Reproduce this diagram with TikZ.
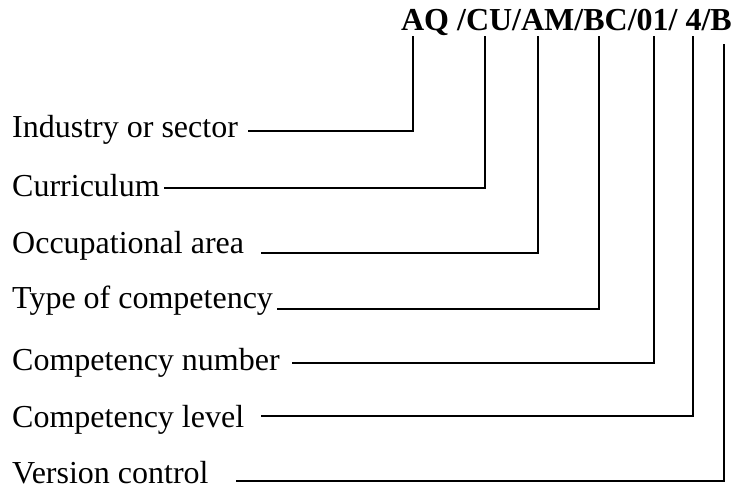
\documentclass[tikz,border=0pt]{standalone}
\usepackage{fontspec}
\setmainfont{Liberation Serif}
\begin{document}
\begin{tikzpicture}[x=1pt,y=-1pt,
  lbl/.style={anchor=base west,inner sep=0pt,font=\fontsize{32}{38}\selectfont},
  code/.style={anchor=base east,inner sep=0pt,font=\fontsize{32}{38}\selectfont\bfseries},
  conn/.style={line width=1.5pt,line cap=rect}]
\useasboundingbox (0,0) rectangle (737,496);
\node[code] (code) at (732,30) {AQ /CU/AM/BC/01/ 4/B};
\node[lbl] (l1) at (12,137) {Industry or sector};
\node[lbl] (l2) at (12,196) {Curriculum};
\node[lbl] (l3) at (12,253) {Occupational area};
\node[lbl] (l4) at (12,308) {Type of competency};
\node[lbl] (l5) at (12,370) {Competency number};
\node[lbl] (l6) at (12,427) {Competency level};
\node[lbl] (l7) at (12,483) {Version control};
\coordinate (t1) at (413,37);
\coordinate (t2) at (485,37);
\coordinate (t3) at (538,37);
\coordinate (t4) at (599,37);
\coordinate (t5) at (654,37);
\coordinate (t6) at (693,37);
\coordinate (t7) at (724,45);
\coordinate (s1) at (249,131);
\coordinate (s2) at (165,188);
\coordinate (s3) at (262,253);
\coordinate (s4) at (278,309);
\coordinate (s5) at (293,363);
\coordinate (s6) at (262,416);
\coordinate (s7) at (237,481);
\foreach \i in {1,...,7}{\draw[conn] (s\i) -| (t\i);}
\end{tikzpicture}
\end{document}
